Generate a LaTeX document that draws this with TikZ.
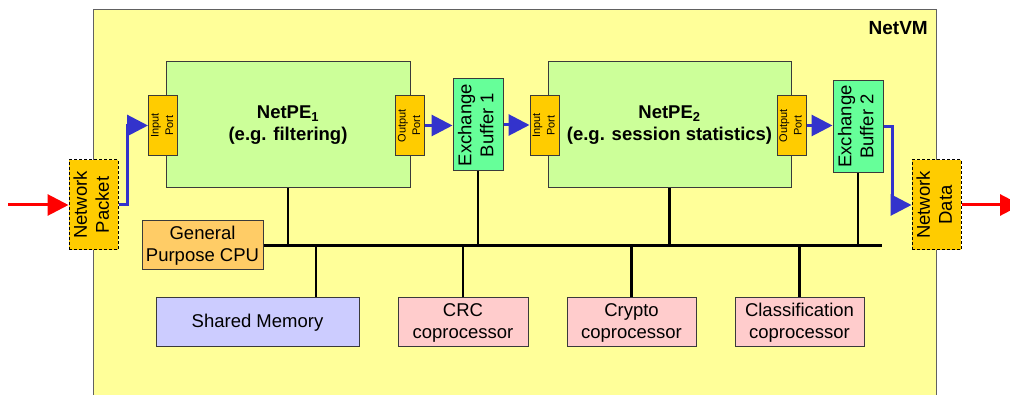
\documentclass[tikz,border=0pt]{standalone}
\usepackage{fontspec}
\setmainfont{Liberation Sans}
\usetikzlibrary{arrows.meta}
\definecolor{vmyellow}{HTML}{FFFF99}
\definecolor{pegreen}{HTML}{CCFF99}
\definecolor{portorange}{HTML}{FFCC00}
\definecolor{bufgreen}{HTML}{66FF99}
\definecolor{cpuorange}{HTML}{FFCC66}
\definecolor{memblue}{HTML}{CCCCFF}
\definecolor{coppink}{HTML}{FFCCCC}
\definecolor{flowblue}{HTML}{3333CC}
\definecolor{boxborder}{HTML}{3A3A3A}
\newcommand\vtext[1]{\rotatebox{90}{\begin{tabular}{@{}c@{}}#1\end{tabular}}}
\begin{document}
\begin{tikzpicture}[x=1pt,y=-1pt,
  box/.style={draw=boxborder, line width=1pt, inner sep=0pt, align=center,
    font=\fontsize{18.5}{22}\selectfont},
  vmbox/.style={draw=boxborder!80, fill=vmyellow, line width=1pt, inner sep=0pt, anchor=north west},
  pebox/.style={box, fill=pegreen, minimum width=244, minimum height=126,
    font=\bfseries\fontsize{18.5}{22}\selectfont},
  portbox/.style={box, fill=portorange, minimum width=28, minimum height=60,
    font=\fontsize{11}{14.5}\selectfont},
  xbuf/.style={box, fill=bufgreen, minimum width=50, minimum height=92},
  netio/.style={box, fill=portorange, draw=black, dash pattern=on 3pt off 2pt,
    minimum width=49, minimum height=90},
  cpubox/.style={box, fill=cpuorange, minimum width=121, minimum height=49},
  membox/.style={box, fill=memblue, minimum width=203, minimum height=49},
  copbox/.style={box, fill=coppink, minimum width=130, minimum height=49},
  bus/.style={draw=black, line width=2.5pt},
  flow/.style={draw=flowblue, line width=3pt, -{Triangle[length=21pt,width=21pt]}},
  extflow/.style={draw=red, line width=3pt, -{Triangle[length=21pt,width=21pt]}},
]
\useasboundingbox (0,0) rectangle (1010,395);
% outer NetVM frame
\node[vmbox, minimum width=843, minimum height=420] (vm) at (93,9) {};
\node[anchor=east, inner sep=0pt, font=\bfseries\fontsize{19}{22}\selectfont] (title) at (928,28) {NetVM};

% processing elements
\node[pebox] (pe1) at (288,125) {NetPE\textsubscript{1}\\(e.g. filtering)};
\node[pebox, minimum width=243] (pe2) at (669.5,125) {NetPE\textsubscript{2}\\(e.g. session statistics)};

% ports
\node[portbox] (in1) at (163,125.5) {\vtext{Input\\Port}};
\node[portbox] (out1) at (410,125.5) {\vtext{Output\\Port}};
\node[portbox] (in2) at (544.5,125.5) {\vtext{Input\\Port}};
\node[portbox] (out2) at (791.5,125.5) {\vtext{Output\\Port}};

% exchange buffers
\node[xbuf] (buf1) at (478,125) {\vtext{Exchange\\Buffer 1}};
\node[xbuf] (buf2) at (858,126.5) {\vtext{Exchange\\Buffer 2}};

% network in / out
\node[netio] (pkt) at (93.5,205) {\vtext{Network\\Packet}};
\node[netio] (data) at (936.5,205) {\vtext{Network\\Data}};

% CPU, memory, coprocessors
\node[cpubox] (cpu) at (202.5,245.5) {General\\Purpose CPU};
\node[membox] (mem) at (257.5,322.5) {Shared Memory};
\node[copbox] (crc) at (463,322.5) {CRC\\coprocessor};
\node[copbox, minimum width=129] (crypto) at (631.5,322.5) {Crypto\\coprocessor};
\node[copbox, minimum width=129] (cls) at (799.5,322.5) {Classification\\coprocessor};

% bus
\coordinate (busend) at (882,245.5);
\coordinate (memtap) at (316,245.5);
\draw[bus] (cpu.east) -- (busend);
\draw[bus] (pe1.south) -- (pe1.south |- cpu.east);
\draw[bus] (buf1.south) -- (buf1.south |- cpu.east);
\draw[bus] (pe2.south) -- (pe2.south |- cpu.east);
\draw[bus] (buf2.south) -- (buf2.south |- cpu.east);
\draw[bus] (memtap) -- (memtap |- mem.north);
\draw[bus] (crc.north) -- (crc.north |- cpu.east);
\draw[bus] (crypto.north) -- (crypto.north |- cpu.east);
\draw[bus] (cls.north) -- (cls.north |- cpu.east);

% data flow
\draw[flow] (pkt.east) -- ++(9,0) |- (in1.west);
\draw[flow] (out1.east) -- (out1.east -| buf1.west);
\draw[flow] (buf1.east) -- (buf1.east -| in2.west);
\draw[flow] (out2.east) -- (out2.east -| buf2.west);
\draw[flow] (buf2.east) -- ++(9,0) |- (data.west);

% external flow
\coordinate (src) at (8,205);
\coordinate (sink) at (1021,205);
\draw[extflow] (src) -- (pkt.west);
\draw[extflow] (data.east) -- (sink);
\end{tikzpicture}
\end{document}
